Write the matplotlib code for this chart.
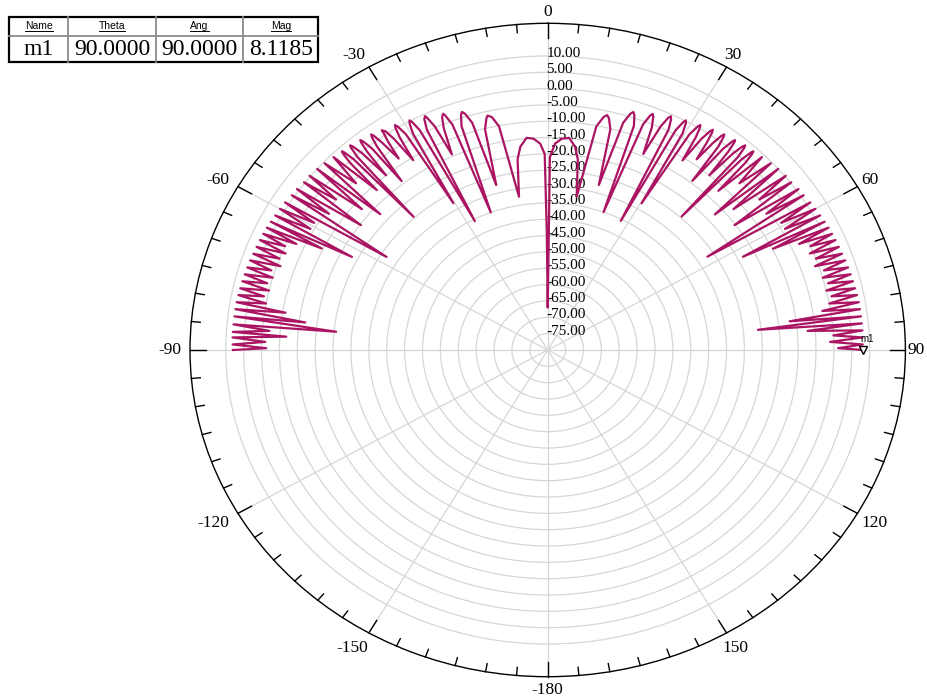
import numpy as np
import matplotlib
matplotlib.use("Agg")
import matplotlib.pyplot as plt
from matplotlib.transforms import offset_copy
from matplotlib.lines import Line2D
from matplotlib.patches import Rectangle

# ---------------- data ----------------
# right half of the pattern: angle (deg, >= 0) and gain (dB)
theta_right = [0.0, 0.6, 1.85, 3.5, 5.3, 7.0, 8.2, 9.8,
               11.24, 12.36, 13.0, 13.56, 14.54, 15.8,
               16.88, 17.72, 18.2, 18.62, 19.36, 20.3,
               21.11, 21.74, 22.1, 22.48, 23.15, 24.0,
               24.77, 25.36, 25.7, 26.03, 26.61, 27.35,
               28.0, 28.51, 28.8, 29.1, 29.63, 30.3,
               30.98, 31.5, 31.8, 32.04, 32.46, 33.0,
               33.63, 34.12, 34.4, 34.62, 35.0, 35.5,
               36.09, 36.54, 36.8, 37.04, 37.46, 38.0,
               38.54, 38.96, 39.2, 39.4, 39.75, 40.2,
               40.74, 41.16, 41.4, 41.62, 42.0, 42.5,
               42.9, 43.22, 43.4, 43.6, 43.95, 44.4,
               45.4, 46.4, 47.5, 48.4, 49.3, 50.3, 51.3, 52.1, 53.0, 53.8,
               54.9, 55.7, 56.5, 57.4, 58.4, 59.2, 60.0, 60.8, 61.6, 62.4,
               63.1, 63.8, 64.5, 65.2, 65.9, 66.6, 67.3, 68.05, 68.8, 69.55,
               70.3, 71.05, 71.75, 72.5, 73.25, 73.95, 74.7, 75.4, 76.15, 76.85,
               77.6, 78.3, 79.0, 79.75, 80.45, 81.15, 81.85, 82.6, 83.3, 84.0,
               84.7, 85.4, 86.1, 86.8, 87.5, 88.2, 88.9, 89.6, 90.0]
db_right = [-67.0, -21.0, -16.8, -15.2, -14.8, -17.3, -21.0, -32.4,
            -10.2, -7.0, -6.2, -7.0, -10.2, -27.5,
            -7.3, -4.1, -3.3, -4.1, -7.3, -35.0,
            -6.0, -2.8, -2.0, -2.8, -6.0, -14.3,
            -4.6, -1.4, -0.6, -1.4, -4.6, -35.5,
            -3.8, -0.6, 0.2, -0.6, -3.8, -28.0,
            -3.0, 0.2, 1.0, 0.2, -3.0, -10.8,
            -2.3, 0.9, 1.7, 0.9, -2.3, -8.3,
            -1.6, 1.6, 2.4, 1.6, -1.6, -14.3,
            -1.1, 2.1, 2.9, 2.1, -1.1, -10.0,
            -0.5, 2.7, 3.5, 2.7, -0.5, -24.6,
            -0.3, 2.9, 3.7, 2.9, -0.3, -11.8,
            4.1, -6.0, 4.6, -17.5, 5.0, -12.5, 5.3, -5.0, 5.3, -15.3,
            5.7, -6.0, 5.8, -27.0, 6.2, -4.0, 6.4, -4.0, 6.6, -18.4,
            6.8, -9.8, 7.0, -2.6, 7.1, 0.0, 7.2, -1.0, 7.3, 0.0,
            7.4, -1.0, 7.6, 1.0, 7.7, 0.0, 7.8, 1.0, 7.9, 0.0,
            8.0, 1.0, 8.1, 0.0, 8.2, -2.3, 8.2, -11.8, 8.2, -20.9,
            8.2, -7.1, 8.2, 0.0, 8.1, -1.0, 8.1, 1.2, 8.12]

# left half of the pattern: |angle| (deg) and gain (dB)
theta_left = [0.0, 0.4, 0.8, 1.9, 3.5, 5.2, 7.0, 8.2, 9.7,
              11.24, 12.36, 13.2, 13.56, 14.54, 15.9,
              16.88, 17.72, 18.2, 18.62, 19.36, 20.7,
              21.11, 21.74, 22.0, 22.48, 23.15, 24.1,
              24.77, 25.36, 25.6, 26.03, 26.61, 27.3,
              28.0, 28.51, 28.8, 29.1, 29.63, 30.4,
              30.98, 31.5, 31.8, 32.04, 32.46, 32.9,
              33.63, 34.12, 34.6, 34.62, 35.0, 35.4,
              36.09, 36.54, 36.8, 37.04, 37.46, 38.3,
              38.54, 38.96, 39.2, 39.4, 39.75, 40.2,
              40.74, 41.16, 41.4, 41.62, 42.0, 42.6,
              42.9, 43.22, 43.4, 43.6, 43.95, 44.3,
              45.4, 46.4, 47.5, 48.4, 49.3, 50.3, 51.3, 52.1, 53.0, 53.8,
              54.9, 55.7, 56.5, 57.7, 58.4, 59.2, 60.0, 60.8, 61.6, 62.5,
              63.1, 63.8, 64.5, 65.2, 65.9, 66.6, 67.3, 68.05, 68.8, 69.55,
              70.3, 71.05, 71.75, 72.5, 73.25, 73.95, 74.7, 75.4, 76.15, 76.85,
              77.6, 78.3, 79.0, 79.75, 80.45, 81.15, 81.85, 82.9, 83.3, 84.6,
              84.9, 85.7, 86.4, 86.8, 87.5, 88.2, 88.9, 89.6, 90.0]
db_left = [-67.0, -44.0, -20.0, -16.8, -15.2, -14.8, -17.3, -21.0, -32.4,
           -10.2, -7.0, -6.3, -7.0, -10.2, -27.5,
           -7.3, -4.1, -3.3, -4.1, -7.3, -35.0,
           -6.0, -2.8, -2.0, -2.8, -6.0, -14.4,
           -4.6, -1.4, -0.6, -1.4, -4.6, -35.6,
           -3.8, -0.6, 0.2, -0.6, -3.8, -27.9,
           -3.0, 0.2, 1.0, 0.2, -3.0, -10.8,
           -2.3, 0.9, 1.7, 0.9, -2.3, -8.1,
           -1.6, 1.6, 2.4, 1.6, -1.6, -14.1,
           -1.1, 2.1, 2.9, 2.1, -1.1, -10.0,
           -0.5, 2.7, 3.5, 2.7, -0.5, -24.6,
           -0.3, 2.9, 3.7, 2.9, -0.3, -11.6,
           4.1, -6.0, 4.6, -17.4, 5.0, -12.5, 5.3, -5.0, 5.3, -15.3,
           5.7, -6.0, 5.8, -26.7, 6.2, -4.0, 6.4, -4.0, 6.6, -18.3,
           6.8, -9.6, 7.0, -2.6, 7.1, 0.0, 7.2, -1.0, 7.3, 0.0,
           7.4, -1.0, 7.6, 1.0, 7.7, 0.0, 7.8, 1.0, 7.9, 0.0,
           8.0, 1.0, 8.1, 0.0, 8.2, -5.8, 8.2, -11.7, 8.2, -20.6,
           8.2, -2.0, 8.2, -6.8, 8.2, -1.0, 8.1, -1.3, 8.0]

radial_ticks = [-75, -70, -65, -60, -55, -50, -45, -40, -35, -30, -25, -20,
                -15, -10, -5, 0, 5, 10]
angle_ticks = [0, 30, 60, 90, 120, 150, 180, 210, 240, 270, 300, 330]
angle_labels = ["0", "30", "60", "90", "120", "150", "-180", "-150", "-120",
                "-90", "-60", "-30"]
r_min, r_max = -80, 20

marker_name = "m1"
marker_theta = 90.0
marker_ang = 90.0
marker_mag = 8.1185
table_headers = ["Name", "Theta", "Ang", "Mag"]
table_values = [marker_name, f"{marker_theta:.4f}", f"{marker_ang:.4f}", f"{marker_mag:.4f}"]

# ---------------- figure ----------------
W, H = 928, 700
fig = plt.figure(figsize=(W / 100, H / 100), dpi=100)
serif = ["Liberation Serif", "DejaVu Serif"]
sans = ["Liberation Sans", "DejaVu Sans"]

cx, cy, rx, ry = 547.7, 350.0, 357.7, 326.7
ax = fig.add_axes([(cx - rx) / W, (H - cy - ry) / H, 2 * rx / W, 2 * ry / H],
                  projection="polar")
ax.set_aspect("auto")
ax.set_theta_zero_location("N")
ax.set_theta_direction(-1)
ax.set_ylim(r_min, r_max)

ax.set_rgrids(radial_ticks, labels=[""] * len(radial_ticks))
ax.set_thetagrids(angle_ticks, labels=[""] * len(angle_ticks))
ax.grid(True, color="#d6d6d6", lw=0.9)
ax.spines["polar"].set_color("black")
ax.spines["polar"].set_linewidth(1.0)
ax.tick_params(axis="both", length=0)

# angular tick marks (inward) and labels
for a in range(0, 360, 5):
    L = 4.4 if a % 30 == 0 else 2.5
    ax.plot([np.deg2rad(a)] * 2, [r_max, r_max - L], color="black", lw=1.0,
            clip_on=False, zorder=6)
lab_dist = [11.3, 13.5, 14.0, 10.6, 19.5, 17.5, 13.3, 17.5, 19.5, 12.0, 14.0, 13.5]
for a, lab, d in zip(angle_ticks, angle_labels, lab_dist):
    t = np.deg2rad(a)
    dx = d * np.sin(t) + (-8 if 180 < a < 360 else 0)
    dy = d * np.cos(t)
    ax.text(t, r_max, lab, transform=offset_copy(ax.transData, fig=fig, x=dx, y=dy, units="dots"),
            ha="center", va="center", fontsize=12.5, family=serif, clip_on=False)

# radial labels along the 0 direction
lab_tr = offset_copy(ax.transData, fig=fig, x=-1.5, y=2.5, units="dots")
for v in radial_ticks:
    ax.text(0.0, v, f"{v:.2f}", transform=lab_tr, ha="left", va="center",
            fontsize=11, family=serif, color="black", zorder=3)

# pattern trace
theta_all = [-t for t in theta_left[::-1]] + theta_right[1:]
db_all = db_left[::-1] + db_right[1:]
ax.plot(np.deg2rad(theta_all), db_all, color="#aa1462", lw=1.6, zorder=4)

# marker m1
ax.plot(np.deg2rad(marker_theta), marker_mag, marker="v", ms=6, mfc="white",
        mec="black", mew=1.0, zorder=5, clip_on=False)
ax.text(np.deg2rad(marker_theta), marker_mag, marker_name,
        transform=offset_copy(ax.transData, fig=fig, x=4, y=11, units="dots"),
        ha="center", va="center", fontsize=7, family=sans, zorder=5)

# ---------------- marker table ----------------
def fx(x):
    return x / W


def fy(y):
    return 1 - y / H


col_x = [9, 68.3, 156, 243.3, 318.3]
row_y = [16.7, 35.7, 61.7]
for x in col_x[1:-1]:
    fig.add_artist(Line2D([fx(x), fx(x)], [fy(row_y[0]), fy(row_y[2])],
                          color="#8a8a8a", lw=1.3))
fig.add_artist(Line2D([fx(col_x[0]), fx(col_x[-1])], [fy(row_y[1]), fy(row_y[1])],
                      color="#8a8a8a", lw=1.3))
fig.add_artist(Rectangle((fx(col_x[0]), fy(row_y[2])), fx(col_x[-1] - col_x[0]),
                         (row_y[2] - row_y[0]) / H, fill=False, ec="black", lw=1.6))

head_texts = []
for i, h in enumerate(table_headers):
    xc = (col_x[i] + col_x[i + 1]) / 2
    t = fig.text(fx(xc), fy((row_y[0] + row_y[1]) / 2 - 0.5), h, ha="center",
                 va="center", fontsize=7.5, family=sans)
    head_texts.append(t)
    v = table_values[i]
    fig.text(fx(xc), fy((row_y[1] + row_y[2]) / 2 + 0.5), v, ha="center",
             va="center", fontsize=17, family=serif)

fig.canvas.draw()
r = fig.canvas.get_renderer()
for t in head_texts:
    bb = t.get_window_extent(r)
    yline = bb.y0 - 0.5
    fig.add_artist(Line2D([bb.x0 / W, bb.x1 / W], [yline / H, yline / H],
                          color="black", lw=0.7))

fig.savefig("out.png", dpi=100)
